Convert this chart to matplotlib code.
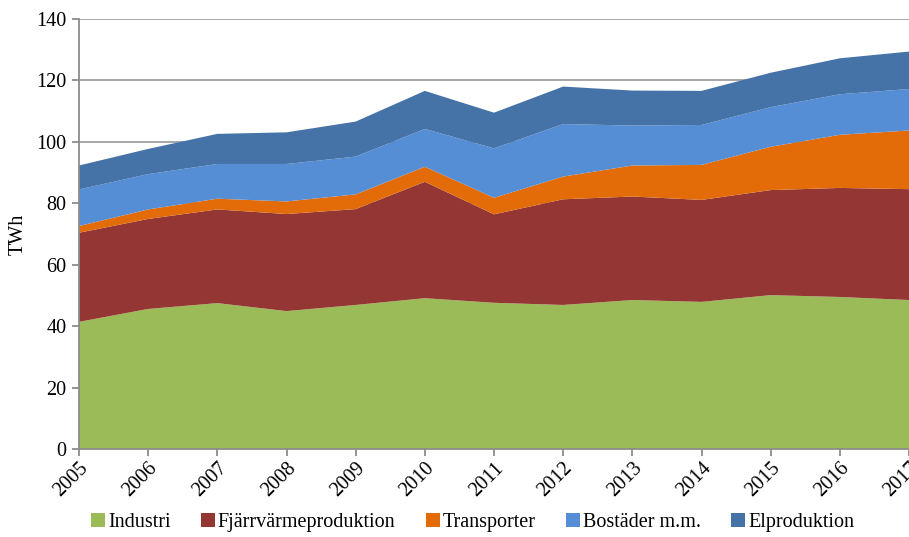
import matplotlib
matplotlib.use("Agg")
import matplotlib.pyplot as plt
from matplotlib.patches import Patch

years = [2005, 2006, 2007, 2008, 2009, 2010, 2011, 2012, 2013, 2014, 2015, 2016, 2017]
series_names = ["Industri", "Fjärrvärmeproduktion", "Transporter", "Bostäder m.m.", "Elproduktion"]

# Cumulative tops (TWh)
industri_top = [41.4, 45.6, 47.5, 44.9, 46.9, 49.1, 47.6, 46.9, 48.5, 47.9, 50.1, 49.5, 48.5]
fjarr_top = [70.4, 74.9, 78.0, 76.5, 78.1, 87.0, 76.4, 81.3, 82.2, 81.1, 84.3, 85.0, 84.6]
transport_top = [72.6, 78.0, 81.5, 80.6, 82.9, 91.9, 81.8, 88.7, 92.3, 92.5, 98.4, 102.3, 103.7]
bostader_top = [84.5, 89.5, 92.8, 92.8, 95.2, 104.2, 97.9, 105.8, 105.3, 105.5, 111.3, 115.5, 117.2]
el_top = [92.3, 97.7, 102.6, 103.1, 106.6, 116.6, 109.5, 118.0, 116.7, 116.6, 122.5, 127.2, 129.4]

tops = [industri_top, fjarr_top, transport_top, bostader_top, el_top]
values = [industri_top] + [[t - b for t, b in zip(tops[i], tops[i - 1])] for i in range(1, 5)]

colors = ["#9BBB59", "#943634", "#E36C09", "#558ED5", "#4572A7"]

plt.rcParams['font.family'] = ['Liberation Serif', 'DejaVu Serif']

fig = plt.figure(figsize=(9.09, 5.37), dpi=100)
ax = fig.add_axes([79 / 909, 88 / 537, 830 / 909, 430 / 537])

ax.stackplot(years, *values, colors=colors, labels=series_names, linewidth=0)

ax.set_xlim(2005, 2017)
ax.set_ylim(0, 140)
ax.set_yticks(range(0, 141, 20))
ax.set_xticks(years)
ax.set_xticklabels([str(y) for y in years], rotation=45, ha='right', rotation_mode='anchor')
ax.yaxis.grid(True, color='#A0A0A0', linewidth=1.3)
ax.set_axisbelow(True)
for s in ['top', 'right']:
    ax.spines[s].set_visible(False)
for s in ['left', 'bottom']:
    ax.spines[s].set_color('#8C8C8C')
    ax.spines[s].set_linewidth(1.3)
ax.tick_params(axis='both', colors='#8C8C8C', length=5, width=1.3, labelsize=14.5, labelcolor='black')
ax.tick_params(axis='x', pad=2)
ax.tick_params(axis='y', pad=4)
ax.set_ylabel("TWh", fontsize=14.5, labelpad=6)

handles = [Patch(facecolor=c, edgecolor='none') for c in colors]
fig.legend(handles, series_names, loc='lower center', bbox_to_anchor=(0.52, -0.025), ncol=5,
           frameon=False, fontsize=14.5, handlelength=0.7, handleheight=0.7,
           handletextpad=0.15, columnspacing=1.5)

fig.savefig("out.png", dpi=100)
